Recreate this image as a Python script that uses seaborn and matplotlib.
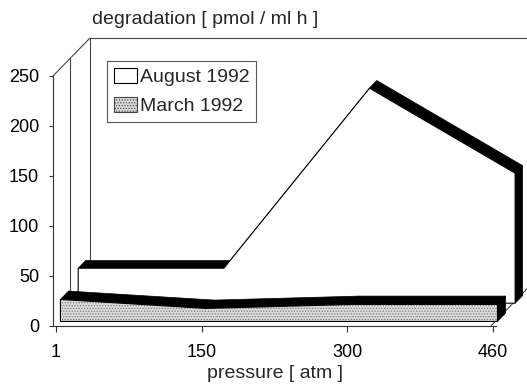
import matplotlib
matplotlib.use('Agg')
import matplotlib.pyplot as plt
import seaborn as sns
from matplotlib.patches import Polygon, Patch

# ---- data ----
categories = ['1', '150', '300', '460']          # pressure [atm]
august_1992 = [35, 35, 215, 130]                 # degradation, back series
march_1992 = [22, 13, 17, 17]                    # degradation, front series
yticks = [0, 50, 100, 150, 200, 250]
series_names = ['August 1992', 'March 1992']

sns.set_theme(style='white')
plt.rcParams['font.family'] = ['Liberation Sans', 'DejaVu Sans']
plt.rcParams['hatch.linewidth'] = 0.6

W, H = 527, 384
fig = plt.figure(figsize=(W / 100, H / 100), dpi=100)
fig.patch.set_facecolor('white')
L, R, T, B = 53, 527, 37, 326
ax = fig.add_axes([L / W, 1 - B / H, (R - L) / W, (B - T) / H])
px_cat = 145.67
cat0_px = 56
x0 = (L - cat0_px) / px_cat
ax.set_xlim(x0, (R - cat0_px) / px_cat)
ax.set_ylim(0, B - T)
ax.set_facecolor('white')

DX, DY = 37 / px_cat, 38.0      # depth vector of the 3-D box
x1 = 2.985                       # right end of the floor

wall = dict(color='#444444', lw=0.8, zorder=1, clip_on=False)
ax.plot([x0, x0 + DX], [250, 250 + DY], **wall)
ax.plot([x0 + DX, x1 + DX], [250 + DY, 250 + DY], **wall)
ax.plot([x1 + DX, x1 + DX], [250 + DY, DY], **wall)
ax.plot([x1, x1 + DX], [0, DY], **wall)
for f in (0.47, 1.0):
    ax.plot([x0 + f * DX, x0 + f * DX], [250 + f * DY, f * DY], **wall)


def area3d(vals, front, back, face, hatch=None, z=2):
    xs = list(range(len(vals)))
    fx, fy = front * DX, front * DY
    bx, by = back * DX, back * DY
    for i in range(len(vals) - 1):
        ax.add_patch(Polygon([(xs[i] + fx, vals[i] + fy), (xs[i + 1] + fx, vals[i + 1] + fy),
                              (xs[i + 1] + bx, vals[i + 1] + by), (xs[i] + bx, vals[i] + by)],
                             closed=True, facecolor='black', edgecolor='black', lw=0.5, zorder=z))
    pts = [(xs[0] + fx, fy)] + [(x + fx, v + fy) for x, v in zip(xs, vals)] + [(xs[-1] + fx, fy)]
    ax.add_patch(Polygon(pts, closed=True, facecolor=face, edgecolor='#777777' if hatch else 'none',
                         hatch=hatch, lw=0, zorder=z + 0.1))
    ax.add_patch(Polygon(pts, closed=True, facecolor='none', edgecolor='black', lw=0.8, zorder=z + 0.2))
    ax.add_patch(Polygon([(xs[-1] + fx, fy), (xs[-1] + fx, vals[-1] + fy),
                          (xs[-1] + bx, vals[-1] + by), (xs[-1] + bx, by)],
                         closed=True, facecolor='black', edgecolor='black', lw=0.5, zorder=z + 0.3,
                         clip_on=False))


area3d(august_1992, 0.60, 0.80, 'white', z=2)
area3d(march_1992, 0.12, 0.34, '#dcdcdc', hatch='......', z=3)

# axes styling
for s in ('top', 'right'):
    ax.spines[s].set_visible(False)
ax.spines['left'].set_bounds(0, 250)
ax.spines['bottom'].set_bounds(x0, 3.02)
for s in ('left', 'bottom'):
    ax.spines[s].set_color('#333333')
    ax.spines[s].set_linewidth(0.8)
ax.set_yticks(yticks)
ax.set_xticks(range(len(categories)))
ax.set_xticklabels(categories)
ax.tick_params(axis='y', direction='out', length=3, width=0.8, pad=7, labelsize=13,
               colors='#333333', labelcolor='black', left=True)
ax.tick_params(axis='x', direction='out', length=4, width=0.8, pad=9, labelsize=13,
               colors='#333333', labelcolor='black', bottom=True)

ax.set_xlabel('pressure [ atm ]', fontsize=14, va='top', ha='center')
ax.xaxis.set_label_coords((275 - L) / (R - L), -(365 - B) / (B - T))
ax.set_ylabel('degradation [ pmol / ml h ]', fontsize=14, rotation=0, ha='left', va='center')
ax.yaxis.set_label_coords((92 - L) / (R - L), (B - 20) / (B - T))

handles = [Patch(facecolor='white', edgecolor='black', lw=0.8),
           Patch(facecolor='#dcdcdc', edgecolor='#444444', hatch='......', lw=0.8)]
leg = ax.legend(handles, series_names, loc='upper left',
                bbox_to_anchor=((107 - L) / (R - L), (B - 61) / (B - T)),
                fontsize=14, frameon=True, fancybox=False, framealpha=1,
                edgecolor='#555555', handlelength=1.2, handleheight=0.8,
                handletextpad=0.15, labelspacing=0.55, borderpad=0.35, borderaxespad=0)
leg.get_frame().set_linewidth(0.8)
leg.set_zorder(10)

fig.savefig('out.png', dpi=100, facecolor='white')
